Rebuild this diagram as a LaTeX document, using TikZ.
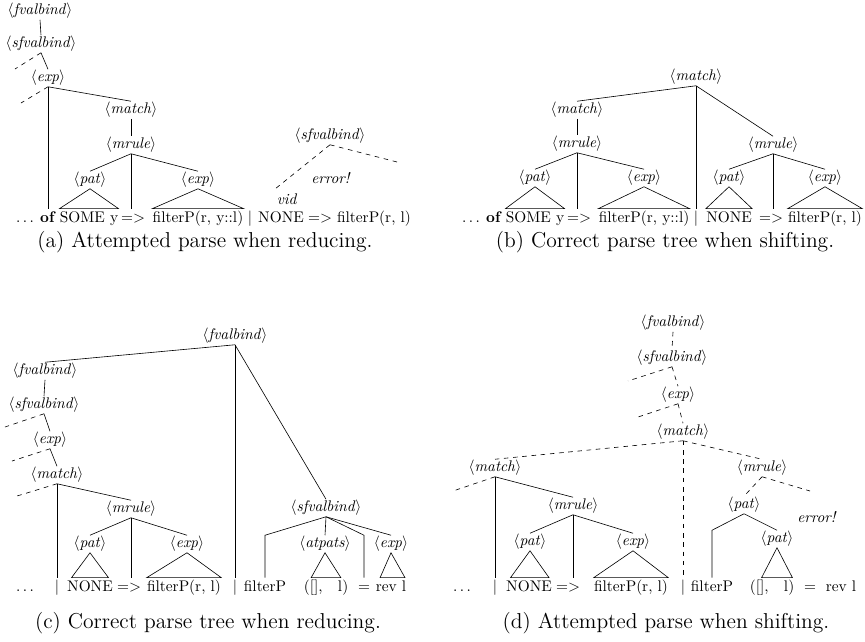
\documentclass[tikz,border=0pt]{standalone}
\newcommand\nt[1]{$\langle$\textit{#1}$\rangle$}
\newcommand\capfont{\fontsize{14}{17}\selectfont}
\begin{document}
\begin{tikzpicture}[x=0.65pt,y=-0.65pt]
\tikzstyle{every node}=[inner sep=0.5pt]
\tikzstyle{tok}=[anchor=base,inner sep=0pt,text height=8.5pt,text depth=2pt]
\tikzstyle{gone}=[dashed]
\tikzstyle{capt}=[font=\capfont]
\useasboundingbox (0,0) rectangle (865,641);
% (a) attempted parse when reducing
\node[tok] (adots) at (25,222) {$\ldots$};
\node[tok] (aof) at (48,222) {\textbf{of}};
\node[tok] (asome) at (89,222) {SOME y};
\node[tok] (aarr) at (133,222) {=>};
\node[tok] (afil) at (198,222) {filterP(r, y::l)};
\node[tok] (abar) at (250,222) {$|$};
\node[tok] (anone) at (281,222) {NONE};
\node[tok] (aarrb) at (320,222) {=>};
\node[tok] (afilb) at (374,222) {filterP(r, l)};
\node (afv) at (40,11) {\nt{fvalbind}};
\node (asfv) at (41,44) {\nt{sfvalbind}};
\node (aexp) at (48,78) {\nt{exp}};
\node (amatch) at (131,110) {\nt{match}};
\node (amrule) at (131,145) {\nt{mrule}};
\node (apat) at (90,180) {\nt{pat}};
\node (aexpb) at (198,180) {\nt{exp}};
\node (asfvr) at (330,136) {\nt{sfvalbind}};
\node (aerr) at (331,178) {\textit{error!}};
\node (avid) at (287,199) {\textit{vid}};
\coordinate (asfv-x) at (15,69);
\coordinate (aexp-x) at (21,103);
\coordinate (asfvr-l) at (275,189);
\coordinate (asfvr-r) at (397,162);
\draw (afv.south) -- (asfv.north);
\draw[gone] (asfv.south) -- (asfv-x);
\draw (asfv.south) -- (aexp.north);
\draw[gone] (aexp.south) -- (aexp-x);
\draw (aexp.south) -- (aexp.south |- aof.north);
\draw (aexp.south) -- (amatch.north);
\draw (amatch.south) -- (amrule.north);
\draw (amrule.south) -- (apat.north);
\draw (amrule.south) -- (amrule.south |- aarr.north);
\draw (amrule.south) -- (aexpb.north);
\draw (apat.south) -- (asome.north west) -- (asome.north east) -- cycle;
\draw (aexpb.south) -- (afil.north west) -- (afil.north east) -- cycle;
\draw[gone] (asfvr.south) -- (asfvr-l);
\draw[gone] (asfvr.south) -- (asfvr-r);
\node[capt] (acap) at (205,242) {(a) Attempted parse when reducing.};
% (b) correct parse tree when shifting
\node[tok] (bdots) at (471,222) {$\ldots$};
\node[tok] (bof) at (494,222) {\textbf{of}};
\node[tok] (bsome) at (535,222) {SOME y};
\node[tok] (barr) at (579,222) {=>};
\node[tok] (bfil) at (644,222) {filterP(r, y::l)};
\node[tok] (bbar) at (696,222) {$|$};
\node[tok] (bnone) at (729,222) {NONE};
\node[tok] (barrb) at (771,222) {=>};
\node[tok] (bfilb) at (825,222) {filterP(r, l)};
\node (bmatch) at (696,77) {\nt{match}};
\node (bmatchl) at (577,110) {\nt{match}};
\node (bmrule) at (577,144) {\nt{mrule}};
\node (bpat) at (535,178) {\nt{pat}};
\node (bexp) at (644,178) {\nt{exp}};
\node (bmruler) at (773,145) {\nt{mrule}};
\node (bpatr) at (729,178) {\nt{pat}};
\node (bexpr) at (825,178) {\nt{exp}};
\draw (bmatch.south) -- (bmatchl.north);
\draw (bmatch.south) -- (bmatch.south |- bbar.north);
\draw (bmatch.south) -- (bmruler.north);
\draw (bmatchl.south) -- (bmrule.north);
\draw (bmrule.south) -- (bpat.north);
\draw (bmrule.south) -- (bmrule.south |- barr.north);
\draw (bmrule.south) -- (bexp.north);
\draw (bmruler.south) -- (bpatr.north);
\draw (bmruler.south) -- (bmruler.south |- barrb.north);
\draw (bmruler.south) -- (bexpr.north);
\draw (bpat.south) -- (bsome.north west) -- (bsome.north east) -- cycle;
\draw (bexp.south) -- (bfil.north west) -- (bfil.north east) -- cycle;
\draw (bpatr.south) -- (bnone.north west) -- (bnone.north east) -- cycle;
\draw (bexpr.south) -- (bfilb.north west) -- (bfilb.north east) -- cycle;
\node[capt] (bcap) at (665,242) {(b) Correct parse tree when shifting.};
% (c) correct parse tree when reducing
\node[tok] (cdots) at (25,591) {$\ldots$};
\node[tok] (cbar) at (57,591) {$|$};
\node[tok] (cnone) at (90,591) {NONE};
\node[tok] (carr) at (129,591) {=>};
\node[tok] (cfil) at (184,591) {filterP(r, l)};
\node[tok] (cbarb) at (235,591) {$|$};
\node[tok] (cfilp) at (265,591) {filterP};
\node[tok] (cargs) at (326,591) {([],\quad l)};
\node[tok] (ceq) at (364,591) {=};
\node[tok] (crev) at (391,591) {rev l};
\node (cfv) at (235,336) {\nt{fvalbind}};
\node (cfvl) at (45,371) {\nt{fvalbind}};
\node (csfv) at (44,405) {\nt{sfvalbind}};
\node (cexp) at (50,440) {\nt{exp}};
\node (cmatch) at (57,475) {\nt{match}};
\node (cmrule) at (131,509) {\nt{mrule}};
\node (cpat) at (90,544) {\nt{pat}};
\node (cexpb) at (187,544) {\nt{exp}};
\node (csfvr) at (326,508) {\nt{sfvalbind}};
\node (catpats) at (325,544) {\nt{atpats}};
\node (cexpr) at (391,544) {\nt{exp}};
\coordinate (csfv-x) at (5,427);
\coordinate (cexp-x) at (12,461);
\coordinate (cmatch-x) at (17,496);
\draw (cfv.south) -- (cfvl.north);
\draw (cfv.south) -- (cfv.south |- cbarb.north);
\draw (cfv.south) -- (csfvr.north);
\draw (cfvl.south) -- (csfv.north);
\draw[gone] (csfv.south) -- (csfv-x);
\draw (csfv.south) -- (cexp.north);
\draw[gone] (cexp.south) -- (cexp-x);
\draw (cexp.south) -- (cmatch.north);
\draw[gone] (cmatch.south) -- (cmatch-x);
\draw (cmatch.south) -- (cmatch.south |- cbar.north);
\draw (cmatch.south) -- (cmrule.north);
\draw (cmrule.south) -- (cpat.north);
\draw (cmrule.south) -- (cmrule.south |- carr.north);
\draw (cmrule.south) -- (cexpb.north);
\draw (cpat.south) -- ([xshift=3pt]cnone.north west) -- ([xshift=-3pt]cnone.north east) -- cycle;
\draw (cexpb.south) -- (cfil.north west) -- (cfil.north east) -- cycle;
\draw (csfvr.south) -- (cfilp.north |- catpats.north) -- (cfilp.north);
\draw (csfvr.south) -- (catpats.north);
\draw (csfvr.south) -- (ceq.north |- catpats.north) -- (ceq.north);
\draw (csfvr.south) -- (cexpr.north);
\draw (catpats.south) -- ([xshift=5pt]cargs.north west) -- ([xshift=-5pt]cargs.north east) -- cycle;
\draw (cexpr.south) -- ([xshift=3pt]crev.north west) -- ([xshift=-1pt]crev.north east) -- cycle;
\node[capt] (ccap) at (208,623) {(c) Correct parse tree when reducing.};
% (d) attempted parse when shifting
\node[tok] (ddots) at (462,591) {$\ldots$};
\node[tok] (dbar) at (495,591) {$|$};
\node[tok] (dnone) at (529,591) {NONE};
\node[tok] (darr) at (568,591) {=>};
\node[tok] (dfil) at (631,591) {filterP(r, l)};
\node[tok] (dbarb) at (683,591) {$|$};
\node[tok] (dfilp) at (712,591) {filterP};
\node[tok] (dargs) at (772,591) {([],\quad l)};
\node[tok] (deq) at (810,591) {=};
\node[tok] (drev) at (841,591) {rev l};
\node (dfv) at (673,323) {\nt{fvalbind}};
\node (dsfv) at (672,358) {\nt{sfvalbind}};
\node (dexp) at (678,395) {\nt{exp}};
\node (dmatch) at (683,432) {\nt{match}};
\node (dmatchl) at (495,468) {\nt{match}};
\node (dmrule) at (573,506) {\nt{mrule}};
\node (dpat) at (530,542) {\nt{pat}};
\node (dexpb) at (633,542) {\nt{exp}};
\node (dmruler) at (762,468) {\nt{mrule}};
\node (dpatr) at (744,505) {\nt{pat}};
\node (dpatb) at (777,539) {\nt{pat}};
\node (derr) at (817,517) {\textit{error!}};
\coordinate (dsfv-x) at (628,381);
\coordinate (dexp-x) at (635,418);
\coordinate (dmatchl-x) at (453,491);
\coordinate (dmruler-x) at (810,491);
\draw[gone] (dfv.south) -- (dsfv.north);
\draw[gone] (dsfv.south) -- (dsfv-x);
\draw[gone] (dsfv.south) -- (dexp.north);
\draw[gone] (dexp.south) -- (dexp-x);
\draw[gone] (dexp.south) -- (dmatch.north);
\draw[gone] (dmatch.south) -- (dmatchl.north);
\draw[gone] (dmatch.south) -- (dmatch.south |- dbarb.north);
\draw[gone] (dmatch.south) -- (dmruler.north);
\draw[gone] (dmatchl.south) -- (dmatchl-x);
\draw (dmatchl.south) -- (dmatchl.south |- dbar.north);
\draw (dmatchl.south) -- (dmrule.north);
\draw (dmrule.south) -- (dpat.north);
\draw (dmrule.south) -- (dmrule.south |- darr.north);
\draw (dmrule.south) -- (dexpb.north);
\draw (dpat.south) -- ([xshift=3pt]dnone.north west) -- ([xshift=-2pt]dnone.north east) -- cycle;
\draw (dexpb.south) -- (dfil.north west) -- (dfil.north east) -- cycle;
\draw[gone] (dmruler.south) -- (dpatr.north);
\draw[gone] (dmruler.south) -- (dmruler-x);
\draw (dpatr.south) -- (dfilp.north |- dpatb.north) -- (dfilp.north);
\draw (dpatr.south) -- (dpatb.north);
\draw (dpatb.south) -- ([xshift=-10pt]dpatb.south |- dargs.north) -- ([xshift=10pt]dpatb.south |- dargs.north) -- cycle;
\node[capt] (dcap) at (666,623) {(d) Attempted parse when shifting.};
\end{tikzpicture}
\end{document}
